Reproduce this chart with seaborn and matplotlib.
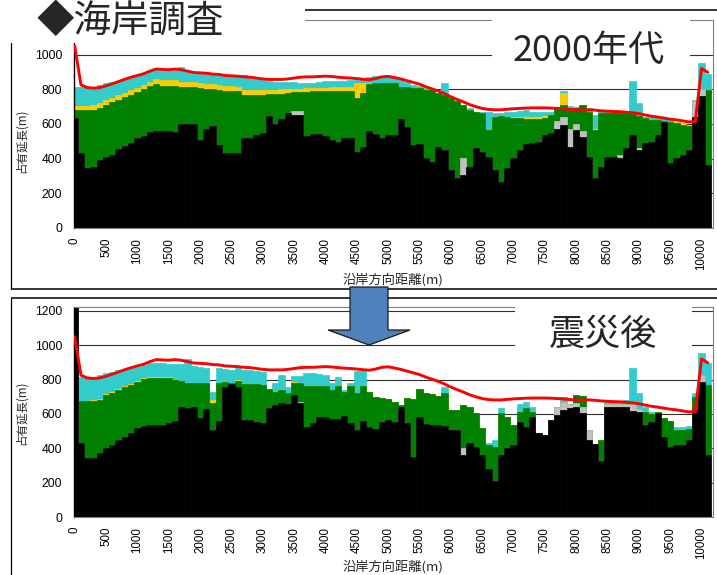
import matplotlib
matplotlib.use("Agg")
import matplotlib.pyplot as plt
from matplotlib.patches import Rectangle, Polygon
from matplotlib.lines import Line2D
import seaborn as sns

# Alongshore distance of each 100 m survey cell (m)
distance = list(range(0, 10101, 100))
tick_positions = list(range(0, 10001, 500))

# ---- 2000s survey: upper edge of each stacked land-use layer (occupied length, m)
black_2000 = [636, 430, 347, 350, 395, 410, 420, 455, 475, 490,
              518, 532, 555, 561, 561, 561, 552, 601, 601, 601,
              509, 570, 590, 480, 435, 435, 435, 518, 518, 536,
              548, 647, 600, 628, 664, 653, 653, 528, 540, 540,
              530, 509, 495, 518, 518, 441, 470, 561, 545, 520,
              537, 538, 628, 584, 480, 482, 404, 383, 470, 451,
              335, 287, 306, 354, 460, 441, 412, 335, 268, 345,
              402, 451, 486, 490, 499, 538, 547, 570, 595, 470,
              566, 524, 412, 287, 354, 412, 412, 405, 460, 538,
              451, 490, 499, 538, 614, 374, 403, 422, 451, 643,
              760, 364]
gray_2000 = [636, 430, 347, 350, 395, 410, 420, 455, 475, 490,
             518, 532, 555, 561, 561, 561, 552, 601, 601, 601,
             509, 570, 590, 480, 435, 435, 435, 518, 518, 536,
             548, 647, 600, 628, 664, 675, 675, 528, 540, 540,
             530, 509, 495, 518, 518, 441, 470, 561, 545, 520,
             537, 538, 628, 584, 480, 482, 404, 383, 470, 451,
             335, 287, 403, 354, 460, 441, 412, 335, 268, 345,
             402, 451, 486, 490, 499, 538, 547, 620, 640, 570,
             600, 560, 412, 287, 354, 412, 412, 420, 460, 538,
             460, 490, 499, 538, 614, 374, 403, 422, 451, 730,
             800, 364]
green_2000 = [678, 678, 678, 680, 692, 711, 726, 740, 755, 769,
              784, 801, 820, 830, 820, 820, 820, 813, 813, 813,
              807, 801, 801, 797, 788, 788, 788, 768, 768, 768,
              770, 774, 774, 774, 776, 782, 782, 782, 788, 788,
              788, 788, 788, 790, 790, 750, 778, 832, 836, 836,
              836, 836, 816, 812, 807, 807, 797, 797, 778, 770,
              749, 730, 711, 682, 672, 663, 566, 643, 647, 643,
              633, 633, 630, 630, 630, 637, 653, 692, 711, 682,
              692, 711, 672, 566, 663, 663, 663, 663, 666, 659,
              649, 634, 624, 624, 620, 614, 605, 595, 586, 730,
              800, 798]
yellow_2000 = [705, 705, 705, 708, 720, 738, 752, 766, 780, 795,
               810, 826, 845, 859, 855, 855, 852, 845, 842, 840,
               836, 830, 828, 825, 820, 818, 815, 795, 795, 795,
               797, 798, 798, 800, 801, 801, 803, 805, 809, 809,
               810, 812, 812, 812, 812, 836, 836, 834, 836, 836,
               836, 836, 816, 812, 807, 807, 797, 797, 778, 770,
               749, 730, 711, 682, 672, 663, 566, 643, 647, 643,
               641, 641, 638, 638, 638, 645, 653, 692, 778, 682,
               692, 711, 672, 571, 663, 663, 663, 663, 676, 669,
               649, 634, 624, 624, 620, 614, 613, 603, 594, 730,
               800, 798]
cyan_2000 = [813, 813, 813, 815, 826, 836, 843, 848, 857, 870,
             882, 890, 903, 917, 911, 911, 913, 926, 905, 899,
             895, 890, 886, 884, 880, 876, 876, 882, 870, 858,
             855, 848, 845, 845, 843, 840, 836, 836, 836, 845,
             849, 849, 849, 849, 853, 855, 860, 872, 876, 876,
             874, 865, 855, 840, 826, 820, 807, 795, 778, 836,
             740, 711, 692, 690, 672, 672, 672, 663, 665, 668,
             668, 676, 680, 672, 670, 670, 672, 686, 792, 701,
             699, 705, 690, 653, 678, 676, 674, 672, 672, 846,
             720, 643, 640, 638, 632, 628, 613, 603, 594, 740,
             950, 890]

# ---- Post-disaster survey: upper edge of each stacked land-use layer
black_post = [1225, 430, 342, 342, 375, 400, 420, 449, 468, 488,
              517, 531, 537, 537, 537, 546, 560, 643, 637, 643,
              579, 628, 507, 560, 760, 775, 760, 565, 565, 556,
              546, 633, 653, 663, 659, 711, 663, 527, 550, 581,
              581, 570, 570, 589, 546, 507, 560, 523, 511, 556,
              565, 556, 643, 546, 352, 581, 542, 537, 537, 531,
              507, 507, 361, 430, 410, 361, 280, 210, 361, 400,
              420, 556, 523, 585, 488, 476, 565, 595, 624, 633,
              639, 608, 449, 426, 328, 643, 643, 643, 643, 620,
              614, 536, 556, 604, 468, 410, 420, 420, 449, 624,
              789, 361]
gray_post = [1225, 430, 342, 342, 375, 400, 420, 449, 468, 488,
             517, 531, 537, 537, 537, 546, 560, 643, 637, 643,
             579, 628, 507, 560, 760, 775, 760, 565, 565, 556,
             546, 633, 653, 663, 659, 711, 672, 527, 550, 581,
             581, 570, 570, 589, 546, 507, 560, 523, 511, 556,
             565, 556, 643, 546, 352, 581, 542, 537, 537, 531,
             507, 507, 400, 430, 410, 361, 280, 210, 361, 400,
             420, 556, 523, 585, 488, 476, 565, 640, 670, 660,
             665, 640, 507, 426, 328, 659, 659, 659, 659, 660,
             630, 536, 556, 604, 468, 410, 420, 420, 449, 624,
             830, 361]
green_post = [1225, 676, 676, 678, 682, 711, 725, 740, 755, 770,
              785, 802, 812, 812, 812, 812, 799, 790, 783, 783,
              783, 783, 666, 780, 789, 779, 790, 775, 775, 775,
              770, 748, 730, 740, 720, 779, 779, 764, 764, 764,
              764, 740, 764, 730, 764, 721, 764, 730, 700, 694,
              690, 672, 653, 692, 686, 744, 721, 715, 702, 721,
              624, 624, 653, 640, 604, 517, 420, 410, 604, 585,
              536, 610, 633, 614, 488, 476, 565, 640, 670, 660,
              711, 705, 507, 426, 449, 659, 659, 659, 659, 660,
              630, 614, 600, 614, 575, 560, 507, 507, 510, 700,
              830, 769]
yellow_post = [1225, 676, 676, 684, 690, 717, 731, 746, 761, 776,
               791, 808, 818, 818, 818, 816, 799, 790, 783, 783,
               783, 783, 680, 780, 789, 779, 796, 775, 775, 775,
               770, 748, 730, 740, 720, 785, 779, 764, 764, 764,
               764, 740, 764, 730, 764, 721, 764, 730, 700, 694,
               690, 672, 653, 692, 686, 744, 721, 715, 702, 721,
               624, 624, 653, 640, 604, 517, 420, 410, 604, 585,
               536, 610, 633, 614, 488, 476, 565, 640, 670, 660,
               711, 705, 507, 426, 449, 659, 659, 659, 659, 660,
               630, 614, 600, 614, 575, 560, 507, 507, 510, 700,
               830, 769]
cyan_post = [1225, 814, 814, 814, 826, 836, 845, 855, 862, 867,
             876, 885, 895, 898, 896, 894, 890, 892, 919, 880,
             875, 867, 730, 867, 862, 859, 870, 859, 859, 850,
             844, 748, 779, 828, 760, 822, 822, 840, 840, 835,
             825, 779, 814, 740, 780, 849, 849, 730, 700, 694,
             690, 672, 653, 692, 686, 744, 721, 715, 702, 760,
             624, 624, 653, 640, 604, 517, 430, 449, 633, 585,
             536, 660, 672, 643, 488, 476, 565, 640, 700, 660,
             711, 705, 507, 426, 449, 672, 672, 672, 680, 867,
             720, 640, 610, 614, 575, 560, 523, 523, 530, 720,
             954, 896]

# Shoreline reference length (red line), common to both surveys
shoreline_total = [1050, 826, 810, 807, 810, 820, 832, 845, 858, 870,
                   880, 890, 905, 917, 915, 913, 917, 913, 905, 897,
                   895, 893, 888, 886, 880, 878, 876, 872, 870, 865,
                   860, 857, 857, 857, 860, 865, 870, 872, 872, 874,
                   876, 874, 870, 867, 865, 862, 858, 855, 862, 872,
                   875, 868, 860, 850, 840, 830, 815, 803, 790, 775,
                   757, 742, 728, 712, 700, 690, 684, 682, 682, 685,
                   688, 690, 692, 693, 693, 693, 692, 690, 688, 684,
                   682, 680, 682, 680, 676, 674, 672, 671, 668, 665,
                   660, 652, 645, 640, 634, 628, 624, 618, 612, 615,
                   920, 898]

LAYER_COLORS = ["#33cccc", "#ffcc00", "#008000", "#c0c0c0", "#000000"]

sns.set_theme(style="white")
plt.rcParams["font.family"] = ["Liberation Sans", "DejaVu Sans"]
JP = ["Noto Sans CJK JP", "DejaVu Sans"]

W, H = 717, 575
fig = plt.figure(figsize=(W / 100, H / 100), dpi=100)
fig.patch.set_facecolor("white")


def px_box(x0, y0, x1, y1):
    """Pixel box (origin top-left) -> figure-fraction rect."""
    return [x0 / W, 1 - y1 / H, (x1 - x0) / W, (y1 - y0) / H]


def px_line(x0, y0, x1, y1, color="black", lw=1.0, z=6):
    fig.add_artist(Line2D([x0 / W, x1 / W], [1 - y0 / H, 1 - y1 / H],
                          transform=fig.transFigure, color=color, lw=lw,
                          zorder=z, solid_capstyle="butt"))


def draw_panel(ax, layers, ymax, yticks):
    # layers given back-to-front; each bar spans 0..top so the stack reads correctly
    for tops, col in zip(layers, LAYER_COLORS):
        sns.barplot(x=distance, y=tops, native_scale=True, width=1.0,
                    color=col, saturation=1, errorbar=None,
                    edgecolor=col, linewidth=0.5, ax=ax, zorder=2)
    sns.lineplot(x=distance, y=shoreline_total, color="#ff0000",
                 linewidth=2.1, ax=ax, zorder=4, legend=False)
    ax.set_xlim(-11, 10175)
    ax.set_ylim(0, ymax)
    ax.set_yticks(yticks)
    ax.set_yticklabels([str(v) for v in yticks])
    ax.set_xticks(tick_positions)
    ax.set_xticklabels([str(v) for v in tick_positions], rotation=90)
    ax.set_axisbelow(True)
    ax.yaxis.grid(True, color="#303030", linewidth=0.8, zorder=0)
    ax.xaxis.grid(False)
    ax.tick_params(axis="y", length=0, pad=8.5, labelsize=8.7, colors="black")
    ax.tick_params(axis="x", length=0, pad=7, labelsize=8.3, colors="black")
    ax.set_xlabel("")
    ax.set_ylabel("")
    ax.spines["left"].set_color("black")
    ax.spines["left"].set_linewidth(1.0)
    ax.spines["bottom"].set_color("#808080")
    ax.spines["bottom"].set_linewidth(0.8)
    ax.spines["right"].set_color("#808080")
    ax.spines["right"].set_linewidth(0.8)
    ax.spines["top"].set_color("#808080")
    ax.spines["top"].set_linewidth(0.8)


ax_top = fig.add_axes(px_box(74, 20, 712.5, 228))
draw_panel(ax_top, [cyan_2000, yellow_2000, green_2000, gray_2000, black_2000],
           1200, list(range(0, 1001, 200)))

ax_bot = fig.add_axes(px_box(74, 306.7, 712.5, 517))
draw_panel(ax_bot, [cyan_post, yellow_post, green_post, gray_post, black_post],
           1225, list(range(0, 1201, 200)))

# panel frames
px_line(11, 10, 717, 10, lw=1.1)
px_line(11, 10, 11, 289, lw=0.9)
px_line(11, 289, 717, 289, lw=1.1)
px_line(11, 298, 717, 298, lw=1.1)
px_line(11, 298, 11, 575, lw=0.9)

# axis titles
for yc in (141, 413):
    fig.text(21 / W, 1 - yc / H, "占有延長(m)", rotation=90, ha="center",
             va="center", fontsize=8.3, family=JP, zorder=8)
for yc in (280, 567):
    fig.text(393 / W, 1 - yc / H, "沿岸方向距離(m)", ha="center",
             va="center", fontsize=9.5, family=JP, zorder=8)

# heading block
fig.add_artist(Rectangle((0, 1 - 43 / H), 305 / W, 43 / H, transform=fig.transFigure,
                         facecolor="white", edgecolor="none", zorder=9))
fig.text(130 / W, 1 - 1.5 / H, "◆海岸調査", ha="center", va="top",
         fontsize=27, family=JP, zorder=10)

# period captions on white boxes
fig.add_artist(Rectangle((492 / W, 1 - 78 / H), 198 / W, 64 / H, transform=fig.transFigure,
                         facecolor="white", edgecolor="none", zorder=9))
fig.text(589 / W, 1 - 51 / H, "2000年代", ha="center", va="center",
         fontsize=26, family=JP, zorder=10)
fig.add_artist(Rectangle((515 / W, 1 - 362 / H), 177 / W, 59 / H, transform=fig.transFigure,
                         facecolor="white", edgecolor="none", zorder=9))
fig.text(603 / W, 1 - 335 / H, "震災後", ha="center", va="center",
         fontsize=26, family=JP, zorder=10)

# transition arrow
arrow_px = [(350, 287), (388, 287), (388, 330), (410, 330), (369, 345),
            (328, 330), (350, 330)]
fig.add_artist(Polygon([(x / W, 1 - y / H) for x, y in arrow_px], closed=True,
                       transform=fig.transFigure, facecolor="#4f81bd",
                       edgecolor="#1a1a1a", linewidth=0.9, zorder=11))

fig.savefig("out.png", dpi=100)
